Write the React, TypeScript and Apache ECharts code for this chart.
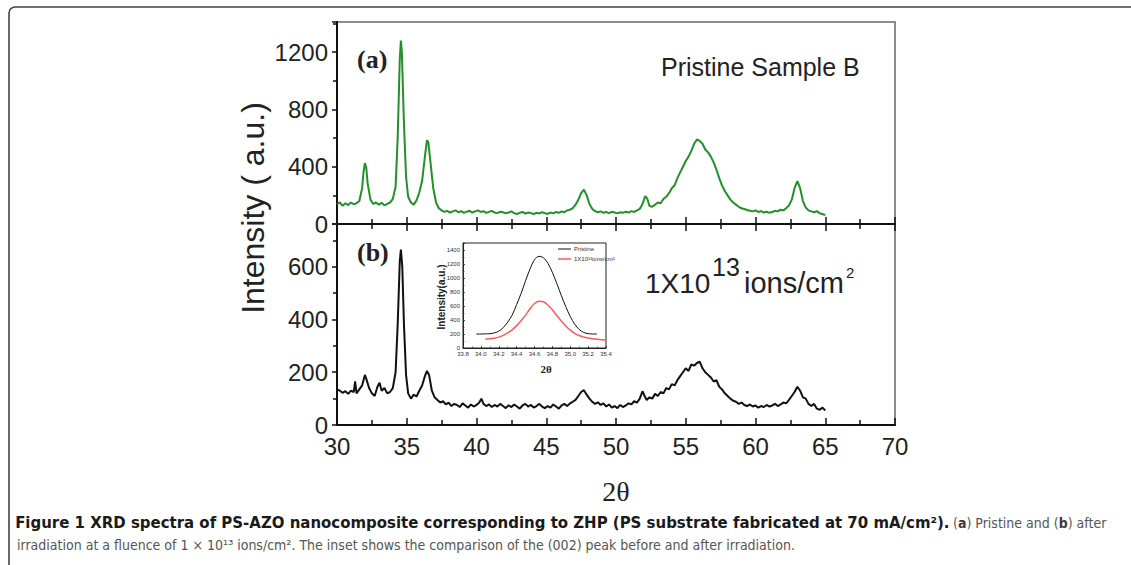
import React, { useEffect, useRef } from "react";
import * as echarts from "echarts";

// ---------- data (2θ in degrees, intensity in a.u.) ----------
const pristineSampleB: [number, number][] = [
  [30.0, 140], [30.2, 150], [30.4, 128], [30.6, 145], [30.8, 132], [31.0, 150], [31.2, 138], [31.4, 145],
  [31.6, 160], [31.8, 250], [31.9, 360], [32.0, 425], [32.1, 390], [32.2, 280], [32.4, 170], [32.6, 140],
  [32.8, 150], [33.0, 135], [33.2, 148], [33.4, 130], [33.6, 140], [33.8, 150], [34.0, 175], [34.2, 260],
  [34.35, 600], [34.5, 1150], [34.58, 1280], [34.65, 1200], [34.8, 700], [34.95, 330], [35.1, 190], [35.3, 150],
  [35.5, 135], [35.7, 165], [35.9, 220], [36.1, 300], [36.3, 470], [36.45, 585], [36.55, 570], [36.7, 430],
  [36.9, 250], [37.1, 150], [37.3, 110], [37.5, 95], [37.7, 85], [37.9, 92], [38.1, 80], [38.3, 88],
  [38.5, 95], [38.7, 82], [38.9, 90], [39.1, 78], [39.3, 86], [39.5, 92], [39.7, 80], [39.9, 88],
  [40.1, 95], [40.3, 84], [40.5, 90], [40.7, 78], [40.9, 85], [41.1, 92], [41.3, 80], [41.5, 76],
  [41.7, 86], [41.9, 82], [42.1, 74], [42.3, 80], [42.5, 88], [42.7, 76], [42.9, 70], [43.1, 78],
  [43.3, 84], [43.5, 72], [43.7, 80], [43.9, 76], [44.1, 70], [44.3, 78], [44.5, 74], [44.7, 82],
  [44.9, 76], [45.1, 70], [45.3, 80], [45.5, 74], [45.7, 84], [45.9, 78], [46.1, 88], [46.3, 82],
  [46.5, 95], [46.7, 100], [46.9, 110], [47.1, 135], [47.3, 170], [47.5, 215], [47.7, 240], [47.9, 200],
  [48.1, 140], [48.3, 105], [48.5, 90], [48.7, 82], [48.9, 88], [49.1, 78], [49.3, 84], [49.5, 76],
  [49.7, 85], [49.9, 80], [50.1, 74], [50.3, 82], [50.5, 78], [50.7, 86], [50.9, 80], [51.1, 90],
  [51.3, 84], [51.5, 95], [51.7, 105], [51.9, 140], [52.1, 195], [52.25, 175], [52.4, 125], [52.6, 120],
  [52.8, 135], [53.0, 150], [53.2, 145], [53.4, 175], [53.6, 190], [53.8, 215], [54.0, 250], [54.2, 270],
  [54.4, 320], [54.6, 360], [54.8, 400], [55.0, 440], [55.2, 470], [55.4, 510], [55.6, 560], [55.8, 590],
  [56.0, 580], [56.2, 560], [56.4, 520], [56.6, 500], [56.8, 470], [57.0, 430], [57.2, 380], [57.4, 320],
  [57.6, 270], [57.8, 230], [58.0, 200], [58.2, 170], [58.4, 150], [58.6, 135], [58.8, 120], [59.0, 110],
  [59.2, 105], [59.4, 98], [59.6, 92], [59.8, 88], [60.0, 95], [60.2, 84], [60.4, 90], [60.6, 80],
  [60.8, 86], [61.0, 78], [61.2, 84], [61.4, 92], [61.6, 88], [61.8, 100], [62.0, 95], [62.2, 110],
  [62.4, 130], [62.6, 170], [62.8, 250], [63.0, 300], [63.2, 250], [63.4, 160], [63.6, 115], [63.8, 95],
  [64.0, 88], [64.2, 82], [64.4, 90], [64.6, 75], [64.8, 70], [65.0, 62],
];

const irradiated1e13: [number, number][] = [
  [30.0, 135], [30.2, 130], [30.4, 122], [30.6, 128], [30.8, 118], [31.0, 130], [31.2, 125], [31.3, 165],
  [31.4, 120], [31.6, 135], [31.8, 150], [32.0, 190], [32.1, 175], [32.3, 140], [32.5, 120], [32.7, 110],
  [32.9, 145], [33.05, 160], [33.2, 130], [33.4, 140], [33.6, 120], [33.8, 125], [34.0, 140], [34.2, 200],
  [34.35, 380], [34.5, 620], [34.58, 665], [34.68, 600], [34.8, 380], [34.95, 190], [35.1, 120], [35.3, 100],
  [35.5, 115], [35.7, 108], [35.9, 130], [36.1, 150], [36.3, 185], [36.45, 205], [36.6, 190], [36.8, 130],
  [37.0, 105], [37.2, 95], [37.4, 85], [37.6, 90], [37.8, 78], [38.0, 85], [38.2, 72], [38.4, 80],
  [38.6, 76], [38.8, 68], [39.0, 82], [39.2, 74], [39.4, 66], [39.6, 78], [39.8, 70], [40.0, 76],
  [40.2, 85], [40.35, 100], [40.5, 80], [40.7, 72], [40.9, 78], [41.1, 68], [41.3, 76], [41.5, 70],
  [41.7, 80], [41.9, 72], [42.1, 64], [42.3, 75], [42.5, 68], [42.7, 78], [42.9, 70], [43.1, 62],
  [43.3, 74], [43.5, 80], [43.7, 70], [43.9, 76], [44.1, 66], [44.3, 72], [44.5, 80], [44.7, 70],
  [44.9, 64], [45.1, 72], [45.3, 66], [45.5, 78], [45.7, 70], [45.9, 62], [46.1, 74], [46.3, 80],
  [46.5, 72], [46.7, 82], [46.9, 88], [47.1, 95], [47.3, 110], [47.5, 125], [47.7, 132], [47.9, 115],
  [48.1, 100], [48.3, 88], [48.5, 80], [48.7, 86], [48.9, 76], [49.1, 82], [49.3, 70], [49.5, 78],
  [49.7, 66], [49.9, 72], [50.1, 64], [50.3, 76], [50.5, 68], [50.7, 74], [50.9, 82], [51.1, 78],
  [51.3, 90], [51.5, 85], [51.7, 100], [51.9, 128], [52.05, 110], [52.2, 95], [52.4, 105], [52.6, 100],
  [52.8, 118], [53.0, 110], [53.2, 125], [53.4, 120], [53.6, 140], [53.8, 135], [54.0, 155], [54.2, 150],
  [54.4, 170], [54.6, 185], [54.8, 200], [55.0, 215], [55.2, 205], [55.4, 230], [55.6, 225], [55.8, 235],
  [56.0, 240], [56.2, 215], [56.4, 200], [56.6, 190], [56.8, 180], [57.0, 165], [57.2, 170], [57.4, 145],
  [57.6, 135], [57.8, 120], [58.0, 110], [58.2, 100], [58.4, 92], [58.6, 88], [58.8, 80], [59.0, 85],
  [59.2, 76], [59.4, 72], [59.6, 78], [59.8, 70], [60.0, 74], [60.2, 66], [60.4, 72], [60.6, 68],
  [60.8, 76], [61.0, 70], [61.2, 74], [61.4, 80], [61.6, 72], [61.8, 78], [62.0, 85], [62.2, 82],
  [62.4, 95], [62.6, 110], [62.8, 125], [63.0, 145], [63.2, 130], [63.4, 105], [63.6, 100], [63.8, 80],
  [64.0, 72], [64.2, 80], [64.4, 62], [64.6, 58], [64.8, 66], [65.0, 55],
];

const insetPristine: [number, number][] = [
  [33.95, 200], [34.0, 200], [34.05, 202], [34.1, 205], [34.15, 215], [34.2, 240], [34.25, 290], [34.3, 370],
  [34.35, 470], [34.4, 620], [34.45, 780], [34.5, 960], [34.55, 1130], [34.6, 1260], [34.65, 1310], [34.7, 1290],
  [34.75, 1210], [34.8, 1080], [34.85, 920], [34.9, 750], [34.95, 590], [35.0, 450], [35.05, 340], [35.1, 265],
  [35.15, 222], [35.2, 205], [35.25, 200], [35.3, 200],
];

const insetIrradiated: [number, number][] = [
  [34.05, 128], [34.1, 132], [34.15, 140], [34.2, 155], [34.25, 180], [34.3, 215], [34.35, 260], [34.4, 320],
  [34.45, 390], [34.5, 470], [34.55, 560], [34.6, 635], [34.65, 668], [34.7, 660], [34.75, 615], [34.8, 545],
  [34.85, 465], [34.9, 385], [34.95, 315], [35.0, 255], [35.05, 210], [35.1, 178], [35.15, 157], [35.2, 142],
  [35.25, 132], [35.3, 124], [35.35, 118], [35.4, 115],
];

// ---------- tick labels ----------
const xTickLabels = [30, 35, 40, 45, 50, 55, 60, 65, 70];
const topYTickLabels = [0, 400, 800, 1200];
const bottomYTickLabels = [0, 200, 400, 600];
const insetXTickLabels = [33.8, 34.0, 34.2, 34.4, 34.6, 34.8, 35.0, 35.2, 35.4];
const insetYTickLabels = [0, 200, 400, 600, 800, 1000, 1200, 1400];

const SANS = '"Liberation Sans", Arial, Helvetica, sans-serif';
const SERIF = '"Liberation Serif", "Times New Roman", serif';
const NARROW = '"Liberation Sans Narrow", "DejaVu Sans Condensed", "Liberation Sans", sans-serif';

const pick = (list: number[], digits: number) => (v: number) => {
  const hit = list.find((t) => Math.abs(t - v) < 1e-6);
  return hit === undefined ? "" : hit.toFixed(digits);
};

const BLACK = "#111";
const FRAME = "#8c8c8c";

function buildOption() {
  const mainAxisLine = { show: true, onZero: false, lineStyle: { color: BLACK, width: 2 } };
  const xInsideTicks = { show: true, inside: true, length: 7, lineStyle: { color: BLACK, width: 1.5 } };
  const xInsideMinor = { show: true, splitNumber: 2, length: 5, lineStyle: { color: BLACK, width: 1.5 } };

  return {
    animation: false,
    backgroundColor: "#ffffff",
    grid: [
      { left: 337, top: 22, width: 558, height: 202, show: true, borderColor: FRAME, borderWidth: 2 },
      { left: 337, top: 224, width: 558, height: 201, show: true, borderColor: FRAME, borderWidth: 2 },
      { left: 463, top: 243, width: 143, height: 105, show: true, borderColor: "#222", borderWidth: 1, backgroundColor: "#fff" },
    ],
    xAxis: [
      {
        gridIndex: 0, type: "value", min: 30, max: 70, interval: 5, position: "bottom",
        axisLine: mainAxisLine, axisTick: xInsideTicks, minorTick: xInsideMinor,
        axisLabel: { show: false }, splitLine: { show: false },
      },
      {
        gridIndex: 1, type: "value", min: 30, max: 70, interval: 5, position: "bottom",
        axisLine: mainAxisLine, axisTick: xInsideTicks, minorTick: xInsideMinor,
        axisLabel: {
          show: true, margin: 9, fontSize: 24, fontFamily: SANS, color: "#222",
          formatter: pick(xTickLabels, 0),
        },
        splitLine: { show: false },
      },
      {
        gridIndex: 1, type: "value", min: 30, max: 70, interval: 5, position: "top",
        axisLine: mainAxisLine, axisTick: xInsideTicks, minorTick: xInsideMinor,
        axisLabel: { show: false }, splitLine: { show: false },
      },
      {
        gridIndex: 2, type: "value", min: 33.8, max: 35.4, interval: 0.2, position: "bottom",
        axisLine: { show: true, onZero: false, lineStyle: { color: "#222", width: 1 } },
        axisTick: { show: true, inside: true, length: 2, lineStyle: { color: "#222", width: 0.8 } },
        minorTick: { show: true, splitNumber: 2, length: 1.5, lineStyle: { color: "#222", width: 0.6 } },
        axisLabel: { show: true, margin: 3, fontSize: 6, fontFamily: SANS, color: "#333", formatter: pick(insetXTickLabels, 1) },
        splitLine: { show: false },
      },
    ],
    yAxis: [
      {
        gridIndex: 0, type: "value", min: 0, max: 1410, interval: 400, position: "left",
        axisLine: mainAxisLine,
        axisTick: { show: true, inside: false, length: 5, lineStyle: { color: BLACK, width: 1.5 } },
        minorTick: { show: true, splitNumber: 2, length: 4, lineStyle: { color: BLACK, width: 1.5 } },
        axisLabel: { show: true, margin: 9, fontSize: 24, fontFamily: SANS, color: "#222", showMaxLabel: false, formatter: pick(topYTickLabels, 0) },
        splitLine: { show: false },
      },
      {
        gridIndex: 1, type: "value", min: 0, max: 762, interval: 200, position: "left",
        axisLine: mainAxisLine,
        axisTick: { show: true, inside: false, length: 5, lineStyle: { color: BLACK, width: 1.5 } },
        minorTick: { show: true, splitNumber: 2, length: 4, lineStyle: { color: BLACK, width: 1.5 } },
        axisLabel: { show: true, margin: 9, fontSize: 24, fontFamily: SANS, color: "#222", showMaxLabel: false, formatter: pick(bottomYTickLabels, 0) },
        splitLine: { show: false },
      },
      {
        gridIndex: 2, type: "value", min: 0, max: 1500, interval: 200, position: "left",
        axisLine: { show: true, onZero: false, lineStyle: { color: "#222", width: 1 } },
        axisTick: { show: true, inside: true, length: 2, lineStyle: { color: "#222", width: 0.8 } },
        minorTick: { show: true, splitNumber: 2, length: 1.5, lineStyle: { color: "#222", width: 0.6 } },
        axisLabel: { show: true, margin: 3, fontSize: 6, fontFamily: SANS, color: "#333", showMaxLabel: false, formatter: pick(insetYTickLabels, 0) },
        splitLine: { show: false },
      },
    ],
    series: [
      {
        name: "Pristine Sample B", type: "line", xAxisIndex: 0, yAxisIndex: 0, data: pristineSampleB,
        showSymbol: false, symbol: "none", lineStyle: { color: "#23902a", width: 2 }, itemStyle: { color: "#23902a" },
      },
      {
        name: "1X10^13 ions/cm2", type: "line", xAxisIndex: 1, yAxisIndex: 1, data: irradiated1e13,
        showSymbol: false, symbol: "none", lineStyle: { color: BLACK, width: 2 }, itemStyle: { color: BLACK },
      },
      {
        name: "Pristine", type: "line", xAxisIndex: 3, yAxisIndex: 2, data: insetPristine, z: 5,
        showSymbol: false, symbol: "none", smooth: 0.3, lineStyle: { color: "#111", width: 1 },
      },
      {
        name: "Irradiated", type: "line", xAxisIndex: 3, yAxisIndex: 2, data: insetIrradiated, z: 5,
        showSymbol: false, symbol: "none", smooth: 0.3, lineStyle: { color: "#ff5a5a", width: 1.5 },
      },
    ],
    graphic: [
      {
        type: "rect", z: 0, silent: true,
        shape: { x: 9, y: 7, width: 1300, height: 700, r: 6 },
        style: { fill: "none", stroke: "#444", lineWidth: 1.6 },
      },
      {
        type: "text", x: 253, y: 208, rotation: Math.PI / 2,
        style: { text: "Intensity ( a.u.)", font: `32px ${SANS}`, fill: "#222", align: "center", verticalAlign: "middle" },
      },
      {
        type: "text", x: 616, y: 491,
        style: { text: "2θ", font: `28px ${SERIF}`, fill: "#222", align: "center", verticalAlign: "middle" },
      },
      {
        type: "text", x: 357, y: 59,
        style: { text: "(a)", font: `bold 26px ${SERIF}`, fill: "#222", align: "left", verticalAlign: "middle" },
      },
      {
        type: "text", x: 357, y: 252,
        style: { text: "(b)", font: `bold 26px ${SERIF}`, fill: "#222", align: "left", verticalAlign: "middle" },
      },
      {
        type: "text", x: 661, y: 67,
        style: { text: "Pristine Sample B", font: `25px ${SANS}`, fill: "#222", align: "left", verticalAlign: "middle" },
      },
      {
        type: "text", x: 645, y: 283,
        style: { text: "1X10", font: `28px ${SANS}`, fill: "#222", align: "left", verticalAlign: "middle" },
      },
      {
        type: "text", x: 712, y: 267,
        style: { text: "13", font: `25px ${SANS}`, fill: "#222", align: "left", verticalAlign: "middle" },
      },
      {
        type: "text", x: 744, y: 283,
        style: { text: "ions/cm", font: `29px ${SANS}`, fill: "#222", align: "left", verticalAlign: "middle" },
      },
      {
        type: "text", x: 846, y: 272,
        style: { text: "2", font: `15px ${SANS}`, fill: "#222", align: "left", verticalAlign: "middle" },
      },
      // inset titles and legend
      {
        type: "text", x: 441, y: 297, rotation: Math.PI / 2, z: 10,
        style: { text: "Intensity(a.u.)", font: `bold 10px ${SANS}`, fill: "#222", align: "center", verticalAlign: "middle" },
      },
      {
        type: "text", x: 546, y: 369, z: 10,
        style: { text: "2θ", font: `bold 11px ${SERIF}`, fill: "#222", align: "center", verticalAlign: "middle" },
      },
      {
        type: "line", z: 10, shape: { x1: 558, y1: 249, x2: 571, y2: 249 }, style: { stroke: "#111", lineWidth: 1 },
      },
      {
        type: "text", x: 574, y: 249, z: 10,
        style: { text: "Pristine", font: `6px ${SANS}`, fill: "#333", align: "left", verticalAlign: "middle" },
      },
      {
        type: "line", z: 10, shape: { x1: 558, y1: 259, x2: 571, y2: 259 }, style: { stroke: "#ff5a5a", lineWidth: 1.5 },
      },
      {
        type: "text", x: 574, y: 259, z: 10,
        style: { text: "1X10¹³ions/cm²", font: `6px ${SANS}`, fill: "#333", align: "left", verticalAlign: "middle" },
      },
      // caption
      {
        type: "text", x: 17, y: 523, scaleX: 1.11, originX: 17,
        style: {
          text: "Figure 1 XRD spectra of PS-AZO nanocomposite corresponding to ZHP (PS substrate fabricated at 70 mA/cm²).",
          font: `bold 15px ${NARROW}`, fill: "#1a1a1a", align: "left", verticalAlign: "middle",
        },
      },
      {
        type: "text", x: 953, y: 523,
        style: {
          text: "{r|(}{rb|a}{r|) Pristine and (}{rb|b}{r|) after}",
          align: "left", verticalAlign: "middle",
          rich: {
            rb: { fontFamily: NARROW, fontWeight: "bold", fontSize: 14, fill: "#3a3a3a" },
            r: { fontFamily: NARROW, fontSize: 14, fill: "#555" },
          },
        },
      },
      {
        type: "text", x: 17, y: 545,
        style: {
          text: "irradiation at a fluence of 1 × 10¹³ ions/cm². The inset shows the comparison of the (002) peak before and after irradiation.",
          font: `14px ${NARROW}`, fill: "#555", align: "left", verticalAlign: "middle",
        },
      },
    ],
  };
}

export default function App() {
  const ref = useRef<HTMLDivElement>(null);
  useEffect(() => {
    if (!ref.current) return;
    const chart = echarts.init(ref.current, undefined, { renderer: "svg" });
    chart.setOption(buildOption() as any);
    return () => chart.dispose();
  }, []);
  return (
    <div
      ref={ref}
      style={{ position: "fixed", left: 0, top: 0, width: 1131, height: 565, background: "#fff" }}
    />
  );
}
